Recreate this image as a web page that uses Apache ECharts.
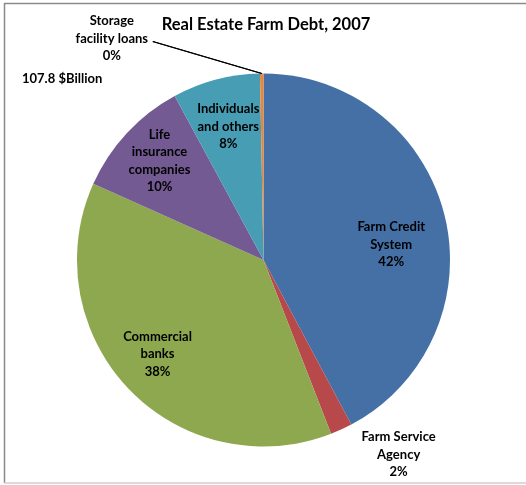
<!DOCTYPE html>
<html>
<head>
<meta charset="utf-8">
<script src="https://cdn.jsdelivr.net/npm/echarts@6/dist/echarts.min.js"></script>
<style>
html,body{margin:0;padding:0;background:#fff;}
#chart{width:526px;height:485px;}
</style>
</head>
<body>
<div id="chart"></div>
<script>
// ---- data ----
var categories = ['Farm Credit\nSystem', 'Farm Service\nAgency', 'Commercial\nbanks', 'Life\ninsurance\ncompanies', 'Individuals\nand others', 'Storage\nfacility loans'];
var shares = [42.2, 1.9, 37.6, 10.4, 7.6, 0.3];   // percent of total
var totalLabel = '107.8 $Billion';
var chartTitle = 'Real Estate Farm Debt, 2007';

// ---- style ----
var colors = ['#4470A6', '#B8494A', '#8DA84F', '#735A93', '#479DB4', '#E8873A'];
var CX = 263.5, CY = 260, R = 186.5;
// label placement: [angle from 12 o'clock in degrees, radius as fraction of R]
var labelPolar = [[83, 0.69], [145.2, 1.27], [228.4, 0.76], [313.6, 0.77], [345.2, 0.74], [325.6, 1.44]];
var FONT = 'Lato, "Open Sans", sans-serif';

var total = shares.reduce(function (a, b) { return a + b; }, 0);
var cum = [];
(function () { var s = 0; shares.forEach(function (v) { cum.push(s); s += v; }); })();

function toXY(angDeg, r) {
  var a = angDeg * Math.PI / 180;
  return [CX + r * Math.sin(a), CY - r * Math.cos(a)];
}

var data = categories.map(function (c, i) {
  return { name: c, value: shares[i], itemStyle: { color: colors[i] } };
});

// leader line for the tiny storage slice
var lastIdx = categories.length - 1;
var storageLabel = toXY(labelPolar[lastIdx][0], labelPolar[lastIdx][1] * R);
var storageEdge = toXY((cum[lastIdx] + shares[lastIdx] / 2) / total * 360, R);
var leaderStart = [storageLabel[0] + 41, storageLabel[1] + 3];

var chart = echarts.init(document.getElementById('chart'));
chart.setOption({
  backgroundColor: '#fff',
  animation: false,
  title: [{
    text: chartTitle,
    left: 266, top: 16, textAlign: 'center', padding: 0,
    textStyle: { fontFamily: FONT, fontWeight: 'bold', fontSize: 16.5, color: '#000' }
  }, {
    text: totalLabel,
    left: 22, top: 72, padding: 0,
    textStyle: { fontFamily: FONT, fontWeight: 'bold', fontSize: 13, color: '#000' }
  }],
  graphic: {
    elements: [
      { type: 'line', shape: { x1: 4, y1: 3.5, x2: 526, y2: 3.5 }, style: { stroke: '#8a8a8a', lineWidth: 1.5 } },
      { type: 'line', shape: { x1: 4.5, y1: 3, x2: 4.5, y2: 483 }, style: { stroke: '#8a8a8a', lineWidth: 1.5 } },
      { type: 'line', shape: { x1: 4, y1: 483, x2: 526, y2: 483 }, style: { stroke: '#cfcfcf', lineWidth: 1.5 } },
      { type: 'line', z: 50, shape: { x1: leaderStart[0], y1: leaderStart[1], x2: storageEdge[0], y2: storageEdge[1] }, style: { stroke: '#000', lineWidth: 1.1 } }
    ]
  },
  series: [{
    type: 'pie',
    center: [CX, CY],
    radius: [0, R],
    startAngle: 90,
    clockwise: true,
    avoidLabelOverlap: false,
    minShowLabelAngle: 0,
    data: data,
    itemStyle: { borderWidth: 0 },
    label: {
      show: true,
      position: 'inside',
      fontFamily: FONT,
      fontWeight: 'bold',
      fontSize: 13,
      lineHeight: 17.5,
      color: '#000',
      align: 'center',
      formatter: function (p) { return p.name + '\n' + Math.round(p.percent) + '%'; }
    },
    labelLine: { show: false },
    labelLayout: function (p) {
      var i = p.dataIndex;
      var pos = toXY(labelPolar[i][0], labelPolar[i][1] * R);
      return { x: pos[0], y: pos[1], align: 'center', verticalAlign: 'middle' };
    }
  }, {
    // leader line from the storage label to its slice, drawn as a custom series
    type: 'custom',
    coordinateSystem: 'none',
    silent: true,
    z: 10,
    data: [0],
    renderItem: function () {
      return {
        type: 'line',
        shape: { x1: leaderStart[0], y1: leaderStart[1], x2: storageEdge[0], y2: storageEdge[1] },
        style: { stroke: '#000', lineWidth: 1.1 }
      };
    }
  }]
});
</script>
</body>
</html>
